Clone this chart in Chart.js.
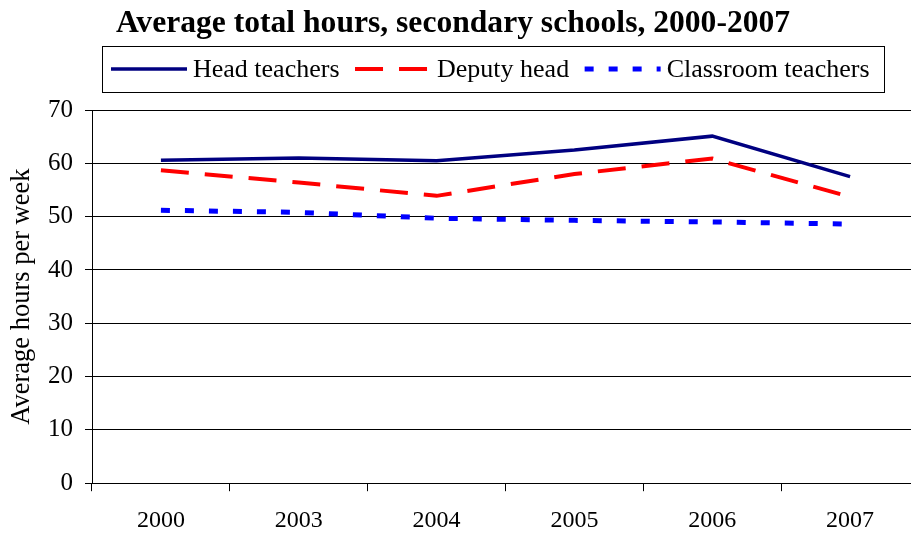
<!DOCTYPE html>
<html>
<head>
<meta charset="utf-8">
<script src="https://cdn.jsdelivr.net/npm/chart.js@4"></script>
<style>
  html, body { margin: 0; padding: 0; background: #fff; overflow: hidden; }
  #wrap { position: absolute; left: -13px; top: 0; width: 932px; height: 550px; }
</style>
</head>
<body>
<div id="wrap"><canvas id="chart"></canvas></div>
<script>
const years = ['2000', '2003', '2004', '2005', '2006', '2007'];
const headTeachers = [60.6, 61.0, 60.5, 62.5, 65.1, 57.5];
const deputyHead = [58.7, 56.4, 53.9, 58.0, 60.9, 53.7];
const classroomTeachers = [51.2, 50.8, 49.7, 49.3, 49.0, 48.6];

const serif = '"Liberation Serif", "Times New Roman", serif';

// boxed legend, drawn by hand (box in canvas coords)
const legendBox = { x: 115, y: 46, w: 782, h: 46 };
const boxLegend = {
    id: 'boxLegend',
    afterDraw(chart) {
        let ctx = chart.ctx;
        ctx.save();
        ctx.strokeStyle = '#000';
        ctx.lineWidth = 1;
        ctx.strokeRect(legendBox.x + 0.5, legendBox.y + 0.5, legendBox.w, legendBox.h);
        ctx.font = '26px ' + serif;
        ctx.textBaseline = 'middle';
        let x = legendBox.x + 9;
        let y = legendBox.y + legendBox.h / 2;
        chart.data.datasets.forEach(ds => {
            ctx.beginPath();
            ctx.setLineDash(ds.borderDash || []);
            ctx.lineWidth = ds.borderWidth;
            ctx.strokeStyle = ds.borderColor;
            ctx.moveTo(x, y);
            ctx.lineTo(x + 76, y);
            ctx.stroke();
            ctx.setLineDash([]);
            ctx.fillStyle = '#000';
            ctx.fillText(ds.label, x + 82, y + 1.5);
            x += 82 + ctx.measureText(ds.label).width + 15.5;
        });
        ctx.restore();
    }
};

new Chart(document.getElementById('chart'), {
    type: 'line',
    data: {
        labels: years,
        datasets: [
            { label: 'Head teachers', data: headTeachers, borderColor: '#000080', borderWidth: 3.5, borderDash: [] },
            { label: 'Deputy head', data: deputyHead, borderColor: '#ff0000', borderWidth: 4, borderDash: [28, 16] },
            { label: 'Classroom teachers', data: classroomTeachers, borderColor: '#0000ff', borderWidth: 5, borderDash: [9, 15] }
        ]
    },
    options: {
        responsive: true,
        maintainAspectRatio: false,
        animation: false,
        layout: { padding: 0 },
        elements: {
            point: { radius: 0, hoverRadius: 0 },
            line: { tension: 0, fill: false, borderCapStyle: 'butt' }
        },
        plugins: {
            legend: { display: false },
            tooltip: { enabled: false },
            title: {
                display: true,
                text: 'Average total hours, secondary schools, 2000-2007',
                color: '#000',
                font: { family: serif, size: 31.6, weight: 'bold' },
                padding: { top: 5, bottom: 67.1 }
            }
        },
        scales: {
            x: {
                offset: true,
                grid: { offset: true, drawOnChartArea: false, drawTicks: true, tickLength: 8, color: '#000', lineWidth: 1 },
                border: { color: '#000', width: 1 },
                ticks: { color: '#000', font: { family: serif, size: 24 }, padding: 15, maxRotation: 0 }
            },
            y: {
                min: 0,
                max: 70,
                ticks: { stepSize: 10, color: '#000', font: { family: serif, size: 25 }, padding: 12 },
                grid: { color: '#000', lineWidth: 1, tickLength: 7 },
                border: { color: '#000', width: 1 },
                title: {
                    display: true,
                    text: 'Average hours per week',
                    color: '#000',
                    font: { family: serif, size: 26.5, lineHeight: 1 },
                    padding: { top: 22, bottom: 0.5 }
                }
            }
        }
    },
    plugins: [boxLegend]
});
</script>
</body>
</html>
